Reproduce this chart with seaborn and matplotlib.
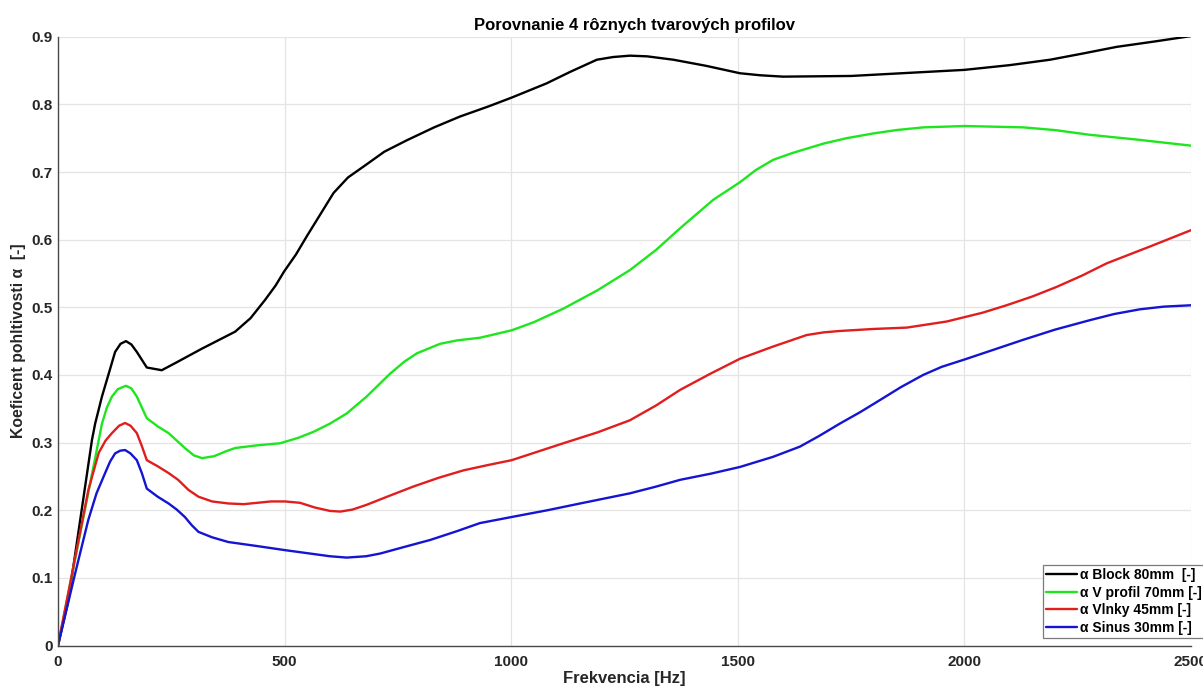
import pandas as pd
import matplotlib
matplotlib.use("Agg")
import matplotlib.pyplot as plt
import seaborn as sns

# ========== data ==========
labels = ['α Block 80mm  [-]', 'α V profil 70mm [-]', 'α Vlnky 45mm [-]', 'α Sinus 30mm [-]']

freq_block = [0, 23, 75, 82, 97, 112, 126, 138, 150, 162, 174, 196, 229, 260, 318, 391, 425, 457,
              480, 499, 525, 549, 608, 640, 674, 720, 770, 830, 887, 950, 1001, 1078, 1130, 1189,
              1225, 1262, 1300, 1358, 1430, 1505, 1550, 1600, 1750, 2000, 2100, 2189, 2260, 2336,
              2420, 2500]
alpha_block = [0, 0.067, 0.304, 0.328, 0.368, 0.402, 0.434, 0.446, 0.450, 0.445, 0.434, 0.411,
               0.407, 0.418, 0.439, 0.464, 0.484, 0.511, 0.532, 0.553, 0.578, 0.605, 0.669, 0.692,
               0.708, 0.730, 0.747, 0.766, 0.782, 0.797, 0.810, 0.831, 0.848, 0.866, 0.870, 0.872,
               0.871, 0.866, 0.857, 0.846, 0.843, 0.841, 0.842, 0.851, 0.858, 0.866, 0.875, 0.885,
               0.893, 0.901]

freq_v = [0, 45, 90, 97, 108, 119, 132, 150, 162, 174, 185, 196, 220, 244, 280, 300, 318, 345, 370,
          391, 440, 490, 530, 564, 600, 637, 681, 733, 765, 792, 843, 880, 931, 1001, 1050, 1115,
          1190, 1262, 1320, 1373, 1446, 1505, 1540, 1578, 1620, 1689, 1740, 1799, 1850, 1909, 2001,
          2130, 2200, 2277, 2380, 2500]
alpha_v = [0, 0.152, 0.304, 0.328, 0.352, 0.368, 0.379, 0.384, 0.380, 0.368, 0.352, 0.336, 0.324,
           0.314, 0.292, 0.281, 0.277, 0.280, 0.287, 0.292, 0.296, 0.299, 0.307, 0.316, 0.328,
           0.343, 0.368, 0.402, 0.420, 0.432, 0.446, 0.451, 0.455, 0.466, 0.478, 0.498, 0.525,
           0.555, 0.585, 0.617, 0.659, 0.685, 0.703, 0.718, 0.728, 0.742, 0.750, 0.757, 0.762,
           0.766, 0.768, 0.766, 0.762, 0.755, 0.748, 0.739]

freq_vlnky = [0, 67, 90, 105, 119, 135, 148, 160, 174, 185, 196, 220, 244, 265, 288, 310, 340, 376,
              410, 440, 470, 501, 534, 567, 600, 623, 650, 681, 730, 784, 840, 895, 950, 1001, 1115,
              1190, 1262, 1320, 1373, 1440, 1505, 1578, 1652, 1690, 1725, 1800, 1873, 1961, 2040,
              2093, 2150, 2203, 2260, 2314, 2410, 2500]
alpha_vlnky = [0, 0.230, 0.285, 0.303, 0.314, 0.325, 0.329, 0.325, 0.314, 0.295, 0.274, 0.265,
               0.255, 0.245, 0.230, 0.220, 0.213, 0.210, 0.209, 0.211, 0.213, 0.213, 0.211, 0.204,
               0.199, 0.198, 0.201, 0.208, 0.221, 0.235, 0.248, 0.259, 0.267, 0.274, 0.299, 0.315,
               0.333, 0.355, 0.378, 0.402, 0.424, 0.442, 0.459, 0.463, 0.465, 0.468, 0.470, 0.479,
               0.492, 0.503, 0.516, 0.530, 0.547, 0.565, 0.590, 0.614]

freq_sinus = [0, 38, 67, 85, 104, 115, 126, 137, 148, 160, 174, 185, 196, 220, 244, 262, 280, 295,
              310, 340, 376, 440, 501, 567, 600, 637, 680, 711, 760, 821, 880, 931, 1001, 1080, 1152,
              1262, 1320, 1373, 1440, 1505, 1578, 1637, 1680, 1725, 1770, 1814, 1860, 1909, 1950,
              2001, 2130, 2200, 2277, 2330, 2387, 2440, 2500]
alpha_sinus = [0, 0.107, 0.186, 0.225, 0.255, 0.272, 0.284, 0.288, 0.289, 0.284, 0.274, 0.255,
               0.232, 0.220, 0.210, 0.201, 0.190, 0.178, 0.168, 0.160, 0.153, 0.147, 0.141, 0.135,
               0.132, 0.130, 0.132, 0.136, 0.145, 0.156, 0.169, 0.181, 0.190, 0.200, 0.210, 0.225,
               0.235, 0.245, 0.254, 0.264, 0.279, 0.294, 0.310, 0.328, 0.345, 0.363, 0.382, 0.400,
               0.412, 0.423, 0.452, 0.467, 0.481, 0.490, 0.497, 0.501, 0.503]

xticks = [0, 500, 1000, 1500, 2000, 2500]
yticks = [0, 0.1, 0.2, 0.3, 0.4, 0.5, 0.6, 0.7, 0.8, 0.9]

colors = ['#000000', '#1ee61e', '#e01e1e', '#1414d2']

# ========== build long table ==========
frames = []
for lab, fx, ay in zip(labels, [freq_block, freq_v, freq_vlnky, freq_sinus],
                       [alpha_block, alpha_v, alpha_vlnky, alpha_sinus]):
    frames.append(pd.DataFrame({'Frekvencia': fx, 'alpha': ay, 'profil': lab}))
df = pd.concat(frames, ignore_index=True)

# ========== style ==========
sns.set_theme(style="whitegrid")
plt.rcParams['font.family'] = ['Liberation Sans', 'DejaVu Sans']
dark = '#262626'

fig = plt.figure(figsize=(12.03, 6.93), dpi=100)
ax = fig.add_axes([0.0482, 0.0685, 0.9418, 0.8785])
ax.set_facecolor('white')

sns.lineplot(data=df, x='Frekvencia', y='alpha', hue='profil', hue_order=labels,
             palette=dict(zip(labels, colors)), estimator=None,
             linewidth=1.7, ax=ax)

ax.set_xlim(0, 2500)
ax.set_ylim(0, 0.9)
ax.set_xticks(xticks)
ax.set_yticks(yticks)
ax.set_yticklabels(['0'] + [f'{v:.1f}' for v in yticks[1:]])

ax.grid(True, color='#e4e4e4', linewidth=0.9)
for side in ['top', 'right']:
    ax.spines[side].set_visible(False)
for side in ['left', 'bottom']:
    ax.spines[side].set_color('#4a4a4a')
    ax.spines[side].set_linewidth(1.0)

ax.tick_params(axis='both', direction='in', length=7, width=0.9, colors='#4a4a4a',
               labelcolor=dark, labelsize=11)
ax.tick_params(axis='x', pad=7)
ax.tick_params(axis='y', pad=4)
for t in ax.get_xticklabels() + ax.get_yticklabels():
    t.set_fontweight('bold')

ax.set_title('Porovnanie 4 rôznych tvarových profilov', fontsize=12, fontweight='bold',
             color='black', pad=5, x=0.509)
ax.set_xlabel('Frekvencia [Hz]', fontsize=12, fontweight='bold', color=dark, labelpad=1)
ax.set_ylabel('Koeficent pohltivosti α  [-]', fontsize=11.3, fontweight='bold', color=dark,
              labelpad=4)

leg = ax.legend(loc='lower left', bbox_to_anchor=(0.869, 0.012), frameon=True, fancybox=False,
                prop={'weight': 'bold', 'size': 10}, handlelength=2.2, handletextpad=0.25,
                borderpad=0.25, labelspacing=0.25, borderaxespad=0)
leg.get_frame().set_edgecolor('#7a7a7a')
leg.get_frame().set_linewidth(0.9)
leg.get_frame().set_alpha(1)
for line in leg.get_lines():
    line.set_linewidth(1.7)
for t in leg.get_texts():
    t.set_color('black')

plt.savefig('out.png', dpi=100)
plt.close()
